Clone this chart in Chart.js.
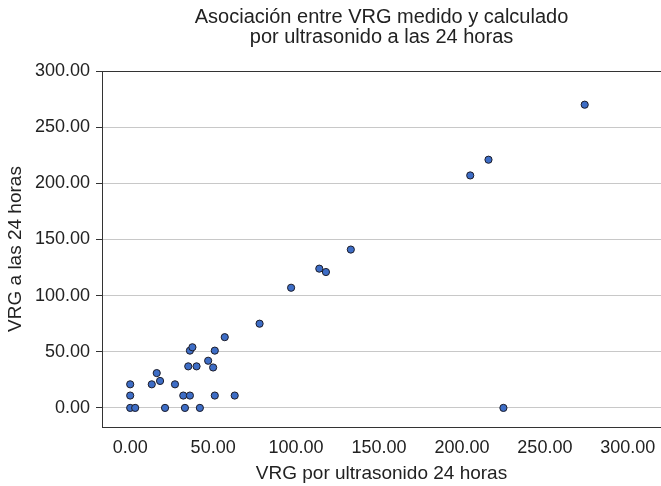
<!DOCTYPE html>
<html>
<head>
<meta charset="utf-8">
<script src="https://cdn.jsdelivr.net/npm/chart.js@4"></script>
<style>
    html, body { margin: 0; padding: 0; background: #fff; }
    #wrap { width: 661px; height: 486px; }
</style>
</head>
<body>
<div id="wrap"><canvas id="scatterChart"></canvas></div>
<script>
// Data
const titleLines = ['Asociación entre VRG medido y calculado', 'por ultrasonido a las 24 horas'];
const xTitle = 'VRG por ultrasonido 24 horas';
const yTitle = 'VRG a las 24 horas';

// VRG por ultrasonido (x) and VRG medido (y), one entry per patient
const ultrasoundValues = [0, 0, 0, 3, 13, 16, 18, 21, 27, 32, 36, 33, 35, 40, 36, 37.5,
    42, 47, 50, 51, 51, 57, 63, 78, 97, 114, 118, 133, 205, 216, 225, 274];
const measuredValues = [21, 11, 0, 0, 21, 31, 24, 0, 21, 11, 11, 0, 37, 37, 51, 54,
    0, 42, 36, 51, 11, 63, 11, 75, 107, 124, 121, 141, 207, 221, 0, 270];

const tickStep = 50;
const fontFamily = '"Liberation Sans", Arial, Helvetica, sans-serif';
const textColor = '#222222';
const axisColor = '#333333';

// Title is centred over the plot area, not the whole canvas
const centeredTitle = {
    id: 'centeredTitle',
    afterDraw(chart) {
        const ctx = chart.ctx;
        const area = chart.chartArea;
        const cx = (area.left + area.right) / 2;
        ctx.save();
        ctx.font = '20px ' + fontFamily;
        ctx.fillStyle = textColor;
        ctx.textAlign = 'center';
        ctx.textBaseline = 'alphabetic';
        ctx.fillText(titleLines[0], cx, 23);
        ctx.fillText(titleLines[1], cx, 43);
        ctx.restore();
    }
};

const points = ultrasoundValues.map((x, i) => ({ x: x, y: measuredValues[i] }));

const ctx = document.getElementById('scatterChart').getContext('2d');
new Chart(ctx, {
    type: 'scatter',
    data: {
        datasets: [{
            data: points,
            backgroundColor: '#3d6dc6',
            borderColor: '#1c1c28',
            borderWidth: 1,
            pointRadius: 3.6,
            pointHoverRadius: 3.6
        }]
    },
    options: {
        responsive: true,
        maintainAspectRatio: false,
        animation: false,
        layout: {
            autoPadding: false,
            padding: { top: 71, right: 0, left: 0, bottom: 0 }
        },
        plugins: {
            legend: { display: false },
            title: { display: false },
            tooltip: { enabled: false }
        },
        scales: {
            x: {
                type: 'linear',
                min: -17,
                max: 320,
                afterFit: function(scale) {
                    scale.height = 59;
                    scale.paddingLeft = 0;
                    scale.paddingRight = 0;
                },
                grid: { display: false },
                border: { display: true, color: axisColor, width: 1 },
                ticks: {
                    stepSize: tickStep,
                    includeBounds: false,
                    padding: 2,
                    color: textColor,
                    font: { family: fontFamily, size: 18 },
                    callback: value => value.toFixed(2)
                },
                title: {
                    display: true,
                    text: xTitle,
                    color: textColor,
                    font: { family: fontFamily, size: 19 },
                    padding: { top: 4, bottom: 1 }
                }
            },
            y: {
                type: 'linear',
                min: -17,
                max: 300,
                afterFit: function(scale) {
                    scale.width = 102;
                    scale.paddingTop = 0;
                    scale.paddingBottom = 0;
                },
                grid: {
                    color: c => (c.tick && c.tick.value === 300) ? axisColor : '#c8c8c8',
                    lineWidth: 1,
                    drawTicks: true,
                    tickLength: 6,
                    tickColor: axisColor
                },
                border: { display: true, color: axisColor, width: 1 },
                ticks: {
                    stepSize: tickStep,
                    includeBounds: false,
                    padding: 6,
                    color: textColor,
                    font: { family: fontFamily, size: 18 },
                    callback: value => value.toFixed(2)
                },
                title: {
                    display: true,
                    text: yTitle,
                    color: textColor,
                    font: { family: fontFamily, size: 19 },
                    padding: { top: 4, bottom: 0 }
                }
            }
        }
    },
    plugins: [centeredTitle]
});
</script>
</body>
</html>
